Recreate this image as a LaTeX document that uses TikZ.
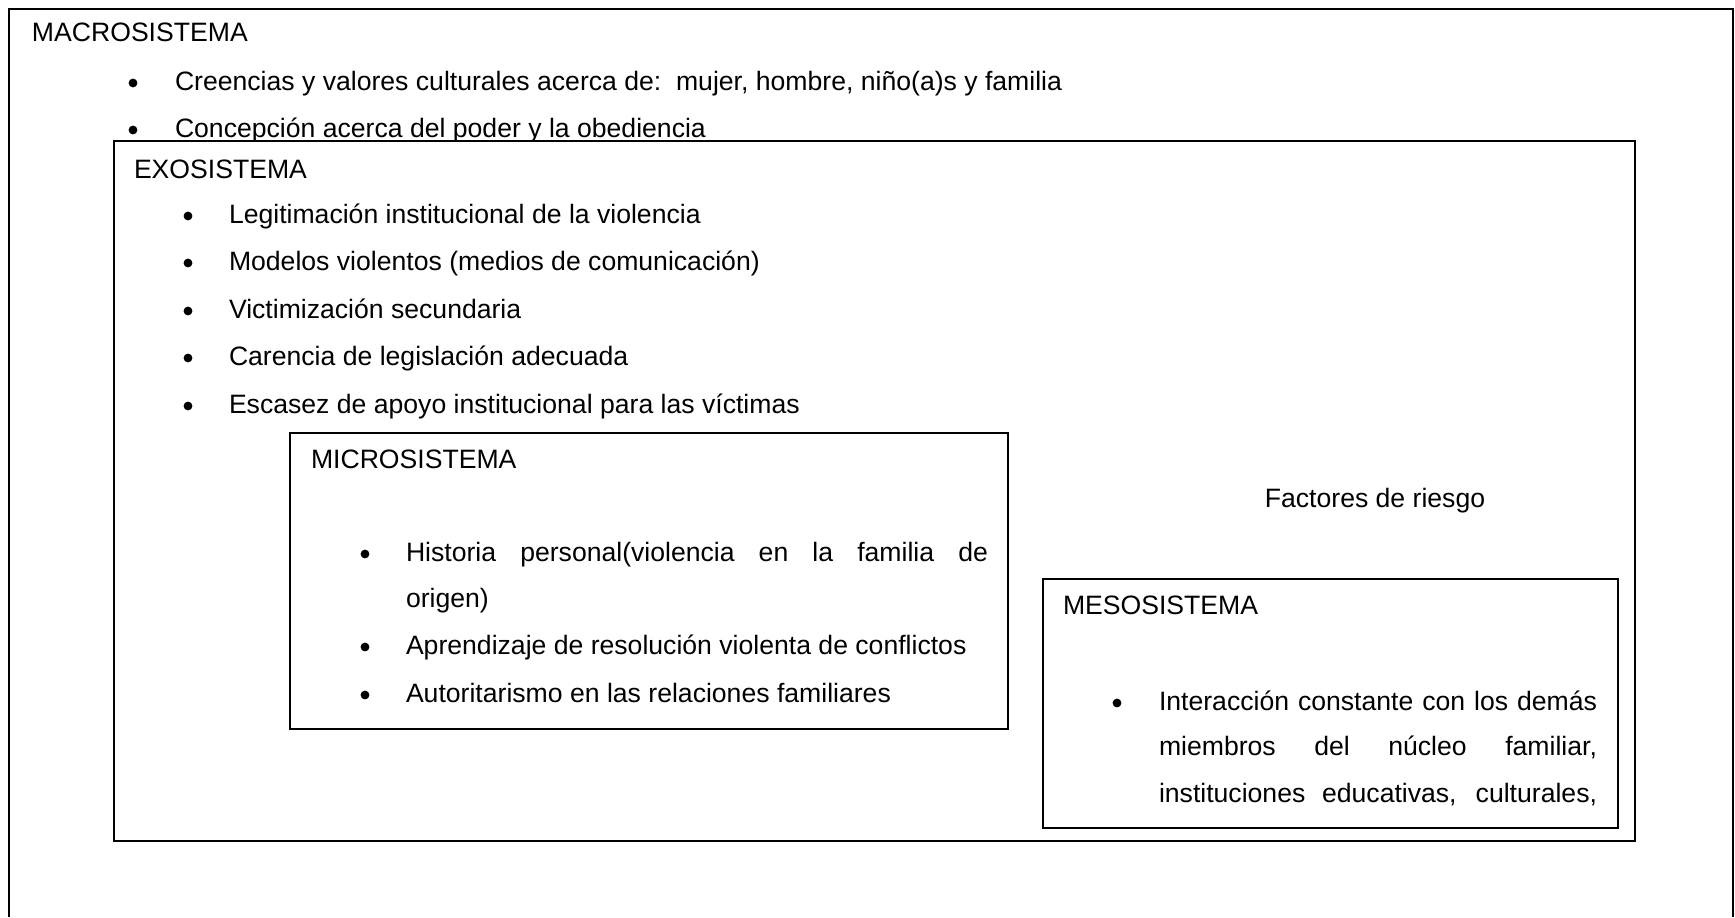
\documentclass[tikz,border=0pt]{standalone}
\usepackage{fontspec}
\setmainfont{Liberation Sans}
\begin{document}
\begin{tikzpicture}[x=0.5pt,y=-0.5pt,
  txt/.style={anchor=base west, inner sep=0pt, outer sep=0pt, font=\fontsize{13.3pt}{16pt}\selectfont},
  bul/.style={circle, fill=black, inner sep=0pt, outer sep=0pt, minimum size=4.4pt},
  sysbox/.style={draw, line width=1pt, fill=white, anchor=north west, inner sep=0pt, outer sep=0pt}]
\useasboundingbox (0,0) rectangle (1735,917);
% outer (macro) frame, bottom edge off the page
\draw[line width=1pt] (9,917) -- (9,9) -- (1733,9) -- (1733,917);
\node[txt] (macro) at (32,41) {MACROSISTEMA};
\node[bul] (mb1) at (133,83) {};
\node[txt] (m1) at (175,90) {Creencias y valores culturales acerca de:\ \ mujer, hombre, niño(a)s y familia};
\node[bul] (mb2) at (133,130) {};
\node[txt] (m2) at (175,137) {Concepción acerca del poder y la obediencia};
% exosistema
\node[sysbox, minimum width=760.5pt, minimum height=350pt] (exo) at (114,141) {};
\node[txt] (exot) at (134,178) {EXOSISTEMA};
\node[bul] (eb1) at (188,216) {};
\node[txt] (e1) at (229,223) {Legitimación institucional de la violencia};
\node[bul] (eb2) at (188,263) {};
\node[txt] (e2) at (229,270) {Modelos violentos (medios de comunicación)};
\node[bul] (eb3) at (188,311) {};
\node[txt] (e3) at (229,318) {Victimización secundaria};
\node[bul] (eb4) at (188,358) {};
\node[txt] (e4) at (229,365) {Carencia de legislación adecuada};
\node[bul] (eb5) at (188,406) {};
\node[txt] (e5) at (229,413) {Escasez de apoyo institucional para las víctimas};
% microsistema
\node[sysbox, minimum width=359pt, minimum height=148pt] (micro) at (290,433) {};
\node[txt] (microt) at (311,468) {MICROSISTEMA};
\node[bul] (ib1) at (365,554) {};
\node[txt] (i1a) at (406,561) {\makebox[291pt][s]{Historia personal(violencia en la familia de}};
\node[txt] (i1b) at (406,607) {origen)};
\node[bul] (ib2) at (365,647) {};
\node[txt] (i2) at (406,654) {Aprendizaje de resolución violenta de conflictos};
\node[bul] (ib3) at (365,695) {};
\node[txt] (i3) at (406,702) {Autoritarismo en las relaciones familiares};
% factores
\node[anchor=base, inner sep=0pt, font=\fontsize{13.3pt}{16pt}\selectfont] (fact) at (1375,507) {Factores de riesgo};
% mesosistema
\node[sysbox, minimum width=287.5pt, minimum height=124.5pt] (meso) at (1043,579) {};
\node[txt] (mesot) at (1063,614) {MESOSISTEMA};
\node[bul] (sb1) at (1117,703) {};
\node[txt] (s1a) at (1159,710) {\makebox[219pt][s]{Interacción constante con los demás}};
\node[txt] (s1b) at (1159,755) {\makebox[219pt][s]{miembros del núcleo familiar,}};
\node[txt] (s1c) at (1159,802) {\makebox[219pt][s]{instituciones educativas, culturales,}};
\end{tikzpicture}
\end{document}
